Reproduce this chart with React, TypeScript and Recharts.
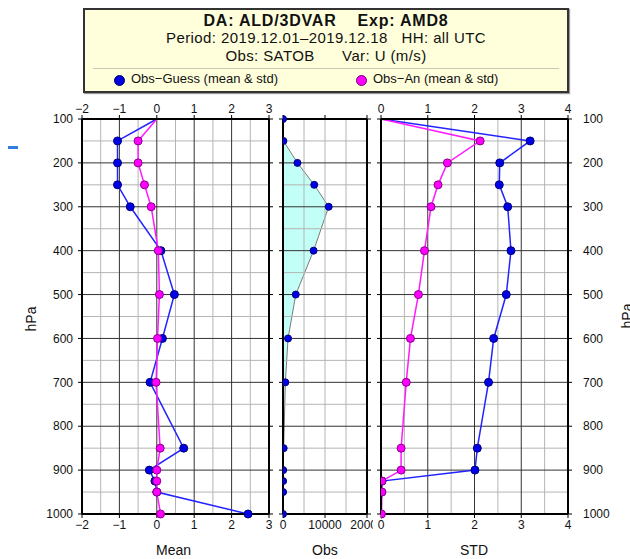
import React from "react";
import { ComposedChart, Line, Area, XAxis, YAxis, ReferenceLine } from "recharts";

const LEVELS = [100, 150, 200, 250, 300, 400, 500, 600, 700, 850, 900, 925, 950, 1000];
const MEAN_GUESS = [0, -1.05, -1.05, -1.05, -0.71, 0.11, 0.47, 0.15, -0.18, 0.72, -0.2, -0.05, 0, 2.44];
const MEAN_AN = [0, -0.5, -0.5, -0.33, -0.15, 0.04, 0.07, 0.02, -0.02, 0.09, 0, 0, 0, 0.1];
const OBS_COUNT = [0, 100, 3440, 7440, 10880, 7280, 3040, 1200, 560, 160, 50, 30, 20, 10];
const STD_GUESS = [0, 3.19, 2.54, 2.53, 2.71, 2.78, 2.68, 2.41, 2.3, 2.06, 2.01, 0.02, 0.01, 0];
const STD_AN = [0, 2.12, 1.42, 1.22, 1.07, 0.93, 0.8, 0.63, 0.54, 0.43, 0.43, 0.02, 0.02, 0.01];

const P_TICKS = [100, 200, 300, 400, 500, 600, 700, 800, 900, 1000];
const P_MAJOR = [200, 300, 400, 500, 600, 700, 800, 900];
const P_MINOR = [150, 250, 350, 450, 550, 650, 750, 850, 950];

const MEAN_TICKS = [-2, -1, 0, 1, 2, 3];
const MEAN_MAJOR = [-1, 0, 1, 2];
const MEAN_MINOR = [-1.5, -0.5, 0.5, 1.5, 2.5];
const OBS_TICKS = [0, 10000, 20000];
const OBS_GRID = [5000, 10000, 15000];
const STD_TICKS = [0, 1, 2, 3, 4];
const STD_MAJOR = [1, 2, 3];
const STD_MINOR = [0.5, 1.5, 2.5, 3.5];

const meanData = LEVELS.map((p, i) => ({ p, guess: MEAN_GUESS[i], an: MEAN_AN[i] }));
const obsData = LEVELS.map((p, i) => ({ p, n: OBS_COUNT[i] }));
const stdData = LEVELS.map((p, i) => ({ p, guess: STD_GUESS[i], an: STD_AN[i] }));

const FONT = "'Liberation Sans', Arial, Helvetica, sans-serif";
const BLUE = "#2323ff";
const MAGENTA = "#ff1aff";
const tickStyle = { fontSize: 12, fill: "#111", fontFamily: FONT };
const fmt = (v: number) => (v < 0 ? "\u2212" + Math.abs(v) : String(v));
const blank = () => "";

const makeDot = (fill: string, stroke: string, r: number, skipTop: boolean) => (props: any) => {
  const { cx, cy, payload, index } = props;
  if (skipTop && payload.p === 100) return <g key={`d${index}`} />;
  return <circle key={`d${index}`} cx={cx} cy={cy} r={r} fill={fill} stroke={stroke} strokeWidth={1} />;
};

function grid(minorX: number[], majorX: number[]) {
  return [
    ...minorX.map((v) => <ReferenceLine key={`mx${v}`} x={v} xAxisId="bottom" stroke="#b4b4b4" strokeWidth={1} />),
    ...P_MINOR.map((v) => <ReferenceLine key={`my${v}`} y={v} xAxisId="bottom" stroke="#b4b4b4" strokeWidth={1} />),
    ...majorX.map((v) => <ReferenceLine key={`Mx${v}`} x={v} xAxisId="bottom" stroke="#333" strokeWidth={1} />),
    ...P_MAJOR.map((v) => <ReferenceLine key={`My${v}`} y={v} xAxisId="bottom" stroke="#333" strokeWidth={1} />),
  ];
}

type PanelProps = {
  left: number;
  width: number;
  leftAxisWidth: number;
  rightAxisWidth: number;
  data: any[];
  domain: [number, number];
  ticks: number[];
  topLabels: boolean;
  leftLabels: boolean;
  rightLabels: boolean;
  children: React.ReactNode;
};

function Panel(props: PanelProps) {
  const axisLine = { stroke: "#000", strokeWidth: 2 };
  const tickLine = { stroke: "#000" };
  return (
    <div style={{ position: "absolute", left: props.left, top: 95 }}>
      <ComposedChart
        layout="vertical"
        width={props.width}
        height={444}
        data={props.data}
        margin={{ top: 0, right: 0, bottom: 0, left: 0 }}
      >
        <XAxis
          xAxisId="top"
          orientation="top"
          type="number"
          domain={props.domain}
          ticks={props.ticks}
          interval={0}
          height={24}
          tickSize={4}
          tickMargin={2}
          axisLine={axisLine}
          tickLine={tickLine}
          tick={tickStyle}
          tickFormatter={props.topLabels ? fmt : blank}
          allowDataOverflow
        />
        <XAxis
          xAxisId="bottom"
          orientation="bottom"
          type="number"
          domain={props.domain}
          ticks={props.ticks}
          interval={0}
          height={25}
          tickSize={4}
          tickMargin={2}
          axisLine={axisLine}
          tickLine={tickLine}
          tick={tickStyle}
          tickFormatter={fmt}
          allowDataOverflow
        />
        <YAxis
          yAxisId={0}
          orientation="left"
          type="number"
          dataKey="p"
          domain={[100, 1000]}
          ticks={P_TICKS}
          interval={0}
          width={props.leftAxisWidth}
          tickSize={4}
          tickMargin={5}
          axisLine={axisLine}
          tickLine={tickLine}
          tick={tickStyle}
          tickFormatter={props.leftLabels ? (v: number) => String(v) : blank}
        />
        <YAxis
          yAxisId="r"
          orientation="right"
          type="number"
          dataKey="p"
          domain={[100, 1000]}
          ticks={P_TICKS}
          interval={0}
          width={props.rightAxisWidth}
          tickSize={4}
          tickMargin={11}
          axisLine={axisLine}
          tickLine={tickLine}
          tick={tickStyle}
          tickFormatter={props.rightLabels ? (v: number) => String(v) : blank}
        />
        {props.children}
      </ComposedChart>
    </div>
  );
}

const textBase: React.CSSProperties = { position: "absolute", fontFamily: FONT, color: "#111", whiteSpace: "pre" };

export default function App() {
  return (
    <div style={{ position: "absolute", left: 0, top: 0, width: 630, height: 559, background: "#fff", overflow: "hidden" }}>
      <div style={{ position: "absolute", left: 8, top: 146, width: 10, height: 3, background: "#2f7fe0" }} />

      <div
        style={{
          position: "absolute",
          left: 83,
          top: 8,
          width: 482,
          height: 81,
          border: "2px solid #333",
          background: "#ffffdc",
          boxShadow: "1px 1px 1px #999",
          fontFamily: FONT,
          color: "#111",
        }}
      >
        <div style={{ position: "absolute", left: 0, right: 0, top: 2, textAlign: "center", fontSize: 16, fontWeight: "bold", letterSpacing: 0.8, whiteSpace: "pre" }}>
          {"DA: ALD/3DVAR    Exp: AMD8"}
        </div>
        <div style={{ position: "absolute", left: 0, right: 0, top: 19, textAlign: "center", fontSize: 15, letterSpacing: 0.4, whiteSpace: "pre" }}>
          {"Period: 2019.12.01\u20132019.12.18   HH: all UTC"}
        </div>
        <div style={{ position: "absolute", left: 0, right: 0, top: 37, textAlign: "center", fontSize: 15, letterSpacing: 0.4, whiteSpace: "pre" }}>
          {"Obs: SATOB      Var: U (m/s)"}
        </div>
        <div style={{ position: "absolute", left: 8, right: 8, top: 58, height: 1, background: "#c8c8b4" }} />
        <div style={{ position: "absolute", left: 29, top: 65, width: 9, height: 9, borderRadius: "50%", background: "#0000e0", border: "1px solid #000060" }} />
        <div style={{ position: "absolute", left: 46, top: 61, fontSize: 13, whiteSpace: "pre" }}>{"Obs\u2212Guess (mean & std)"}</div>
        <div style={{ position: "absolute", left: 271, top: 65, width: 9, height: 9, borderRadius: "50%", background: "#ff00ff", border: "1px solid #700070" }} />
        <div style={{ position: "absolute", left: 288, top: 61, fontSize: 13, whiteSpace: "pre" }}>{"Obs\u2212An (mean & std)"}</div>
      </div>

      <Panel
        left={0}
        width={275}
        leftAxisWidth={82}
        rightAxisWidth={6}
        data={meanData}
        domain={[-2, 3]}
        ticks={MEAN_TICKS}
        topLabels
        leftLabels
        rightLabels={false}
      >
        {grid(MEAN_MINOR, MEAN_MAJOR)}
        <Line xAxisId="bottom" dataKey="guess" stroke={BLUE} strokeWidth={1.5} dot={makeDot("#0000e6", "#00007a", 4, true)} isAnimationActive={false} />
        <Line xAxisId="bottom" dataKey="an" stroke={MAGENTA} strokeWidth={1.5} dot={makeDot("#ff00ff", "#8a008a", 4, true)} isAnimationActive={false} />
      </Panel>

      <Panel
        left={277}
        width={96}
        leftAxisWidth={6}
        rightAxisWidth={6}
        data={obsData}
        domain={[0, 20000]}
        ticks={OBS_TICKS}
        topLabels={false}
        leftLabels={false}
        rightLabels={false}
      >
        <Area xAxisId="bottom" dataKey="n" type="linear" stroke="#7a7a7a" strokeWidth={1} fill="#c2fff7" fillOpacity={1} dot={false} isAnimationActive={false} />
        {grid(OBS_GRID, [])}
        <Line xAxisId="bottom" dataKey="n" stroke="none" dot={makeDot("#0000e6", "#00007a", 3.5, false)} isAnimationActive={false} />
      </Panel>

      <Panel
        left={375}
        width={255}
        leftAxisWidth={6}
        rightAxisWidth={62}
        data={stdData}
        domain={[0, 4]}
        ticks={STD_TICKS}
        topLabels
        leftLabels={false}
        rightLabels
      >
        {grid(STD_MINOR, STD_MAJOR)}
        <Line xAxisId="bottom" dataKey="guess" stroke={BLUE} strokeWidth={1.5} dot={makeDot("#0000e6", "#00007a", 4, true)} isAnimationActive={false} />
        <Line xAxisId="bottom" dataKey="an" stroke={MAGENTA} strokeWidth={1.5} dot={makeDot("#ff00ff", "#8a008a", 4, true)} isAnimationActive={false} />
      </Panel>

      <div style={{ ...textBase, left: 156, top: 542, fontSize: 14 }}>Mean</div>
      <div style={{ ...textBase, left: 312, top: 542, fontSize: 14 }}>Obs</div>
      <div style={{ ...textBase, left: 460, top: 542, fontSize: 14 }}>STD</div>
      <div style={{ ...textBase, left: 19, top: 311, fontSize: 14, transform: "rotate(-90deg)" }}>hPa</div>
      <div style={{ ...textBase, left: 615, top: 308, fontSize: 14, transform: "rotate(-90deg)" }}>hPa</div>
    </div>
  );
}
